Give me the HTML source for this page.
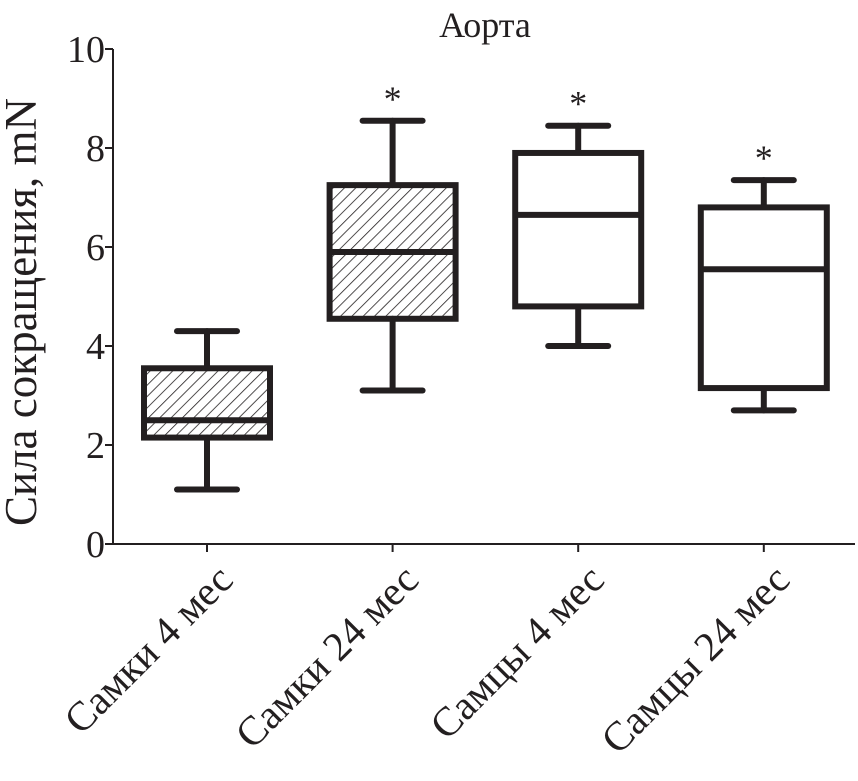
<!DOCTYPE html>
<html><head><meta charset="utf-8"><style>
body{margin:0;background:#fff}
svg{display:block}
text{font-family:"Liberation Serif",serif;fill:#231f20}
</style></head><body>
<svg id="chart" width="858" height="781" viewBox="0 0 858 781">
<defs>
<pattern id="hatch" patternUnits="userSpaceOnUse" width="8" height="8" patternTransform="rotate(45)">
<line x1="0" y1="0" x2="0" y2="8" stroke="#231f20" stroke-width="1.6"/>
</pattern>
</defs>
<text x="485" y="37" font-size="36" text-anchor="middle">Аорта</text>
<text transform="translate(36,312) rotate(-90)" font-size="45" text-anchor="middle">Сила сокращения, mN</text>
<g id="axes"></g>
<g id="boxes"></g>
</svg>
<script>
const categories=["Самки 4 мес","Самки 24 мес","Самцы 4 мес","Самцы 24 мес"];
const mins=[1.1,3.1,4.0,2.7];
const q1s=[2.15,4.55,4.8,3.15];
const medians=[2.5,5.9,6.65,5.55];
const q3s=[3.55,7.25,7.9,6.8];
const maxs=[4.3,8.55,8.45,7.35];
const hatched=[true,true,false,false];
const stars=[false,true,true,true];
const yTicks=[0,2,4,6,8,10];

const NS="http://www.w3.org/2000/svg";
const x0=113,x1=855,yBase=544,yTop=49;
const y=v=>yBase-(v/10)*(yBase-yTop);
const xc=i=>207+i*185.6;
function mk(tag,attrs,parent){const e=document.createElementNS(NS,tag);for(const k in attrs)e.setAttribute(k,attrs[k]);parent.appendChild(e);return e;}
const ax=document.getElementById('axes'),bx=document.getElementById('boxes');
let l=mk('line',{x1:x0,y1:yTop,x2:x0,y2:yBase,stroke:'#231f20','stroke-width':2},ax);


l=mk('line',{x1:x0,y1:yBase,x2:x1,y2:yBase,stroke:'#231f20','stroke-width':2},ax);


yTicks.forEach(t=>{
 let tk=mk('line',{x1:x0-8,y1:y(t),x2:x0,y2:y(t),stroke:'#231f20','stroke-width':2},ax);
 
 
 let tx=mk('text',{x:x0-8,y:y(t)+13,'font-size':38,'text-anchor':'end'},ax);
 tx.textContent=t;
 
 
});
categories.forEach((c,i)=>{
 const cx=xc(i),hw=63,cw=30;
 let tk=mk('line',{x1:cx,y1:yBase,x2:cx,y2:yBase+8,stroke:'#231f20','stroke-width':2},ax);
 
 
 let lb=mk('text',{transform:`translate(${cx+28},${yBase+38}) rotate(-45)`,'font-size':41,'text-anchor':'end'},ax);
 lb.textContent=c;
 
 
 const g=mk('g',{},bx);
 
 
 const st={stroke:'#231f20','stroke-width':6,'stroke-linecap':'round'};
 mk('line',Object.assign({x1:cx,y1:y(maxs[i]),x2:cx,y2:y(q3s[i])},st),g);
 mk('line',Object.assign({x1:cx,y1:y(q1s[i]),x2:cx,y2:y(mins[i])},st),g);
 mk('line',Object.assign({x1:cx-cw,y1:y(maxs[i]),x2:cx+cw,y2:y(maxs[i])},st),g);
 mk('line',Object.assign({x1:cx-cw,y1:y(mins[i]),x2:cx+cw,y2:y(mins[i])},st),g);
 mk('rect',{x:cx-hw,y:y(q3s[i]),width:2*hw,height:y(q1s[i])-y(q3s[i]),fill:hatched[i]?'url(#hatch)':'#fff',stroke:'#231f20','stroke-width':6},g);
 mk('line',{x1:cx-hw,y1:y(medians[i]),x2:cx+hw,y2:y(medians[i]),stroke:'#231f20','stroke-width':6},g);
 if(stars[i]){let s=mk('text',{x:cx,y:y(maxs[i])-10,'font-size':36,'text-anchor':'middle'},g);s.textContent='*';
  
  }
});
</script>
</body></html>
